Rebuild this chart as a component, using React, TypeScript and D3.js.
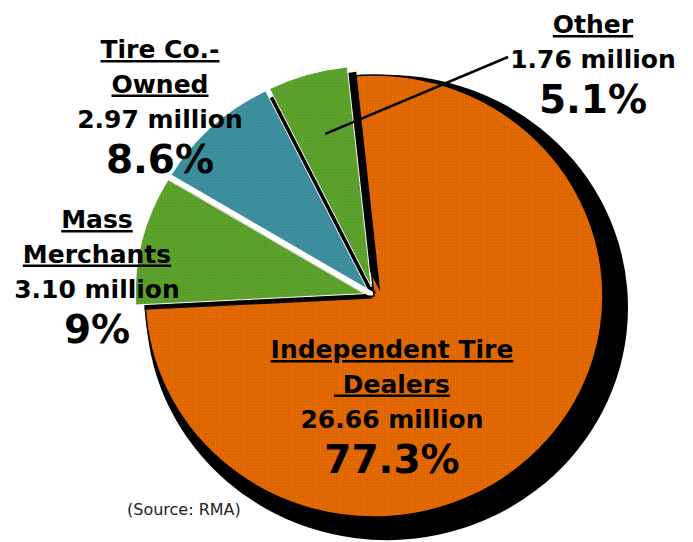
import React from "react";
import * as d3 from "d3";

// Tire sales by outlet type (RMA)
const categories = ["Independent Tire Dealers", "Mass Merchants", "Tire Co.-Owned", "Other"];
const units = ["26.66 million", "3.10 million", "2.97 million", "1.76 million"];
const shares = [77.3, 9, 8.6, 5.1];
const shareLabels = ["77.3%", "9%", "8.6%", "5.1%"];
const titleLines = [["Independent Tire", "\u00a0Dealers"], ["Mass", "Merchants"], ["Tire Co.-", "Owned"], ["Other"]];
const colors = ["#de6500", "#5a9e2a", "#3a8c9a", "#5a9e2a"];
const dots = ["#f07a10", "#6cb03a", "#4a9cac", "#6cb03a"];

const width = 693;
const height = 542;
const cx = 374;
const cy = 296;
const radius = 229;
const squash = 0.965;

// label placement (centre x, first baseline)
const labelPos = [
  { x: 392, y: 358 },
  { x: 97, y: 228 },
  { x: 160, y: 58 },
  { x: 593, y: 33 },
];

const deg = Math.PI / 180;

const App = () => {
  const pie = d3
    .pie<number>()
    .sort(null)
    .value((d) => d)
    .padAngle(2.5 * deg)
    .startAngle(-6 * deg)
    .endAngle(354 * deg);
  const slices = pie(shares);

  // spans include the pad; separation comes from the explode offset
  const arc = d3.arc<d3.PieArcDatum<number>>().innerRadius(0).outerRadius(radius).padAngle(0);
  const bigShadow = d3.arc<d3.PieArcDatum<number>>().innerRadius(0).outerRadius(radius + 12).padAngle(0);

  const explode = (d: d3.PieArcDatum<number>, i: number) => {
    if (i === 0) return [0, 0];
    const a = (d.startAngle + d.endAngle) / 2;
    return [Math.sin(a) * 10, -Math.cos(a) * 10];
  };

  // leader line for the "Other" slice
  const other = slices[3];
  const midA = (other.startAngle + other.endAngle) / 2;
  const [ox, oy] = explode(other, 3);
  const lx1 = cx + ox + Math.sin(midA) * radius * 0.72;
  const ly1 = cy + (oy - Math.cos(midA) * radius * 0.72) * squash;

  const font = "'DejaVu Sans', sans-serif";

  return (
    <svg width={width} height={height} style={{ display: "block", position: "absolute", left: 0, top: 0 }}>
      <defs>
        {colors.map((c, i) => (
          <pattern key={i} id={`tex${i}`} width={3} height={3} patternUnits="userSpaceOnUse">
            <rect width={3} height={3} fill={c} />
            <rect x={0} y={0} width={1} height={1} fill={dots[i]} />
          </pattern>
        ))}
      </defs>
      <rect width={width} height={height} fill="#fff" />

      <g transform={`translate(${cx},${cy}) scale(1,${squash})`}>
        {/* big slice and its shadow */}
        <path d={bigShadow(slices[0]) || ""} transform="translate(13,12)" fill="#000" />
        <path d={arc(slices[0]) || ""} fill="url(#tex0)" stroke="#000" strokeWidth={1.5} />
        {/* exploded small slices, each with its own shadow */}
        {slices.slice(1).map((d, j) => {
          const [x, y] = explode(d, j + 1);
          return (
            <g key={j}>
              <path d={arc(d) || ""} transform={`translate(${x + 9},${y + 5})`} fill="#000" />
              <path
                d={arc(d) || ""}
                transform={`translate(${x},${y})`}
                fill={`url(#tex${j + 1})`}
                stroke="#fff"
                strokeWidth={1}
                strokeLinejoin="round"
              />
            </g>
          );
        })}
      </g>

      <line x1={lx1} y1={ly1} x2={508} y2={57} stroke="#000" strokeWidth={2.5} />

      {categories.map((c, i) => {
        const p = labelPos[i];
        const lines = titleLines[i];
        return (
          <g key={c} fontFamily={font} fontWeight="bold" textAnchor="middle" fill="#000">
            {lines.map((t, k) => (
              <text key={k} x={p.x} y={p.y + k * 34.5} fontSize={25} textDecoration="underline" style={{ whiteSpace: "pre" }}>
                {t}
              </text>
            ))}
            <text x={p.x} y={p.y + lines.length * 35} fontSize={25}>
              {units[i]}
            </text>
            <text x={p.x} y={p.y + lines.length * 35 + 45} fontSize={39}>
              {shareLabels[i]}
            </text>
          </g>
        );
      })}

      <text x={127} y={515} fontFamily={font} fontSize={16} fill="#222">
        (Source: RMA)
      </text>
    </svg>
  );
};

export default App;
